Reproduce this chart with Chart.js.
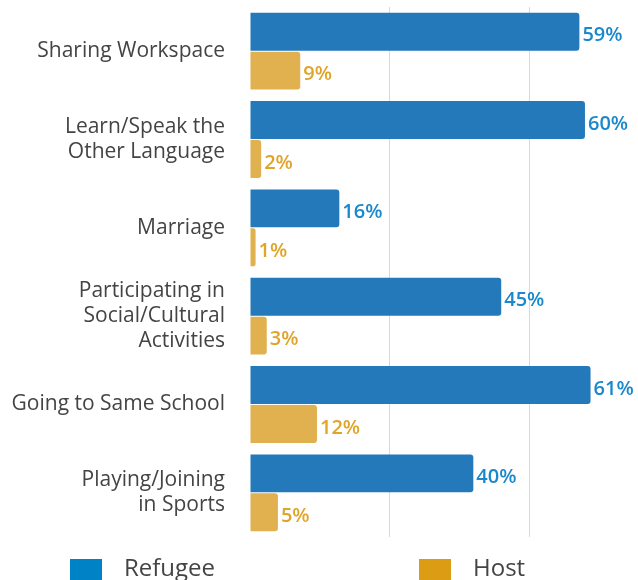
<!DOCTYPE html>
<html>
<head>
<meta charset="utf-8">
<script src="https://cdn.jsdelivr.net/npm/chart.js@4"></script>
<style>
html,body{margin:0;padding:0;background:#fff;}
#wrap{width:638px;height:580px;position:relative;}
</style>
</head>
<body>
<div id="wrap"><canvas id="c" width="638" height="580"></canvas></div>
<script>
const categories = [
  ["Sharing Workspace"],
  ["Learn/Speak the", "Other Language"],
  ["Marriage"],
  ["Participating in", "Social/Cultural", "Activities"],
  ["Going to Same School"],
  ["Playing/Joining", "in Sports"]
];
const refugee = [59, 60, 16, 45, 61, 40];
const host = [9, 2, 1, 3, 12, 5];
const seriesNames = ["Refugee", "Host"];

const barColors = ["#2479bb", "#e1b04f"];
const labelColors = ["#1a88cc", "#e0a427"];
const legendColors = ["#0082c6", "#dc9c14"];

const valueLabels = {
  id: 'valueLabels',
  afterDatasetsDraw(chart) {
    const ctx = chart.ctx;
    ctx.save();
    ctx.font = "600 20px 'Open Sans'";
    ctx.textBaseline = 'middle';
    ctx.textAlign = 'left';
    chart.data.datasets.forEach((ds, i) => {
      const meta = chart.getDatasetMeta(i);
      ctx.fillStyle = labelColors[i];
      meta.data.forEach((el, j) => {
        ctx.fillText(ds.data[j] + '%', el.x + 3, el.y + 4);
      });
    });
    ctx.restore();
  }
};

const customLegend = {
  id: 'customLegend',
  afterDraw(chart) {
    const ctx = chart.ctx;
    ctx.save();
    ctx.font = "24px 'Open Sans'";
    ctx.textBaseline = 'alphabetic';
    const starts = [70, 419];
    chart.data.datasets.forEach((ds, i) => {
      const x = starts[i];
      ctx.fillStyle = legendColors[i];
      ctx.fillRect(x, 559, 32, 26);
      ctx.fillStyle = '#444';
      ctx.fillText(ds.label, x + 54, 576);
    });
    ctx.restore();
  }
};

new Chart(document.getElementById('c'), {
  type: 'bar',
  data: {
    labels: categories,
    datasets: [
      { label: seriesNames[0], data: refugee, backgroundColor: barColors[0], borderRadius: 3, borderSkipped: 'start' },
      { label: seriesNames[1], data: host, backgroundColor: barColors[1], borderRadius: 3, borderSkipped: 'start' }
    ]
  },
  options: {
    indexAxis: 'y',
    responsive: false,
    animation: false,
    events: [],
    layout: { padding: { top: 7, bottom: 43, left: 0, right: 0 } },
    datasets: { bar: { categoryPercentage: 0.88, barPercentage: 0.975 } },
    plugins: { legend: { display: false }, tooltip: { enabled: false } },
    scales: {
      x: {
        min: 0, max: 69.5,
        ticks: { display: false, stepSize: 25 },
        border: { display: false },
        grid: {
          drawTicks: false,
          color: (c) => (c.tick && (c.tick.value === 25 || c.tick.value === 50)) ? '#d9d9d9' : 'rgba(0,0,0,0)',
          lineWidth: 1
        },
        afterFit: (s) => { s.height = 0; s.paddingLeft = 0; s.paddingRight = 0; }
      },
      y: {
        border: { display: false },
        grid: { display: false, drawTicks: false },
        ticks: {
          color: '#444',
          font: { family: "'Open Sans'", size: 21, lineHeight: 1.2 },
          padding: 25
        },
        afterFit: (s) => { s.width = 250; s.paddingTop = 0; s.paddingBottom = 0; }
      }
    }
  },
  plugins: [valueLabels, customLegend]
});
</script>
</body>
</html>
